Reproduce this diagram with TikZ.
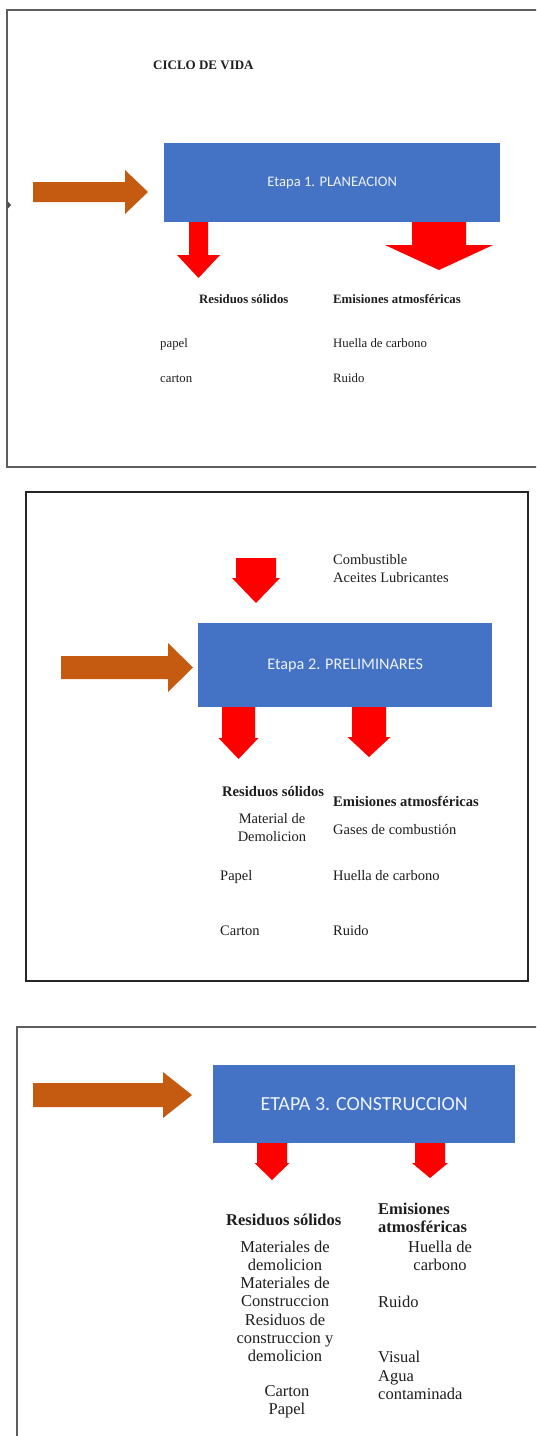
\documentclass[tikz,border=0pt]{standalone}
\usepackage{fontspec}
\setmainfont{Liberation Serif}
\newfontfamily\calib{Carlito}
\usetikzlibrary{calc}

\definecolor{stageblue}{HTML}{4472C4}
\definecolor{flowbrown}{HTML}{C55A11}
\definecolor{outred}{HTML}{FF0000}
\definecolor{framegray}{HTML}{5E5E5E}
\definecolor{inkgray}{HTML}{1E1E1E}
\definecolor{paletext}{HTML}{EEF2FA}

% downward block arrow: centre x, top y, shaft width, head width, head base y, tip y
\newcommand\downblock[6]{%
  \fill[outred] (#1-#3/2,#2) -- (#1+#3/2,#2) -- (#1+#3/2,#5) -- (#1+#4/2,#5)
    -- (#1,#6) -- (#1-#4/2,#5) -- (#1-#3/2,#5) -- cycle;}
% rightward block arrow: left x, centre y, shaft height, head height, head base x, tip x
\newcommand\rightblock[6]{%
  \fill[flowbrown] (#1,#2-#3/2) -- (#5,#2-#3/2) -- (#5,#2-#4/2) -- (#6,#2)
    -- (#5,#2+#4/2) -- (#5,#2+#3/2) -- (#1,#2+#3/2) -- cycle;}

\begin{document}
\begin{tikzpicture}[x=1pt,y=-1pt,
  panel/.style={draw=framegray, line width=1.4pt},
  stage/.style={fill=stageblue, draw=none, text=paletext, font=\calib,
    inner sep=0pt, anchor=north west},
  lbl/.style={text=inkgray, inner sep=0pt, anchor=west,
    text height=0.7em, text depth=0.2em},
  grp/.style={text=inkgray, inner sep=0pt, align=center},
  sizeA/.style={font=\fontsize{12.8}{15}\selectfont},
  sizeAb/.style={font=\fontsize{12.8}{15}\selectfont\bfseries},
  sizeB/.style={font=\fontsize{14.5}{18}\selectfont},
  sizeBb/.style={font=\fontsize{14.6}{18}\selectfont\bfseries},
  sizeC/.style={font=\fontsize{16.5}{18.2}\selectfont},
  sizeCb/.style={font=\fontsize{16.5}{18}\selectfont\bfseries}]

\useasboundingbox (0,0) rectangle (536,1436);
\fill[white] (0,0) rectangle (536,1436);
\clip (0,0) rectangle (536,1436);

% ---------- Etapa 1 ----------
\draw[panel] (7,10) rectangle (548,467);
\fill[framegray!80!black] (7.5,201) -- (11,205) -- (7.5,209) -- cycle;
\node[lbl, font=\fontsize{13}{15}\selectfont\bfseries] (title) at (153,67) {CICLO DE VIDA};
\node[stage, minimum width=336pt, minimum height=79pt,
  font=\calib\fontsize{14.6}{16}\selectfont] (s1) at (164,143) {Etapa 1. PLANEACION};
\rightblock{33}{192}{20}{44}{125}{148}
\downblock{198.5}{222}{19}{43}{255}{278}
\downblock{439}{222}{54}{108}{245}{270}
\node[lbl, sizeAb] (r1) at (199,301) {Residuos sólidos};
\node[lbl, sizeAb] (e1) at (333,301) {Emisiones atmosféricas};
\node[lbl, sizeA] (r1a) at (160,345) {papel};
\node[lbl, sizeA] (r1b) at (160,380) {carton};
\node[lbl, sizeA] (e1a) at (333,345) {Huella de carbono};
\node[lbl, sizeA] (e1b) at (333,380) {Ruido};

% ---------- Etapa 2 ----------
\draw[panel, draw=black!85] (26,492) rectangle (528,981);
\node[lbl, sizeB] (in2a) at (333,562) {Combustible};
\node[lbl, sizeB] (in2b) at (333,580) {Aceites Lubricantes};
\downblock{256}{558}{40}{48}{578}{603}
\node[stage, minimum width=294pt, minimum height=84pt,
  font=\calib\fontsize{16.2}{18}\selectfont] (s2) at (198,623) {Etapa 2. PRELIMINARES};
\rightblock{61}{667.5}{23}{49}{168}{193}
\downblock{238.5}{707}{33}{40}{738}{759}
\downblock{369}{707}{34}{43}{737}{757}
\node[lbl, sizeBb] (r2) at (222,794) {Residuos sólidos};
\node[lbl, sizeBb] (e2) at (333,804) {Emisiones atmosféricas};
\node[grp, sizeB] (r2a) at (272,828) {Material de\\Demolicion};
\node[lbl, sizeB] (e2a) at (333,832) {Gases de combustión};
\node[lbl, sizeB] (r2b) at (220,878) {Papel};
\node[lbl, sizeB] (e2b) at (333,878) {Huella de carbono};
\node[lbl, sizeB] (r2c) at (220,933) {Carton};
\node[lbl, sizeB] (e2c) at (333,933) {Ruido};

% ---------- Etapa 3 ----------
\draw[panel] (17,1027) rectangle (548,1450);
\node[stage, minimum width=302pt, minimum height=78pt,
  font=\calib\fontsize{20}{22}\selectfont] (s3) at (213,1065) {ETAPA 3. CONSTRUCCION};
\rightblock{33}{1095}{24}{46}{163}{192}
\downblock{272}{1143}{30}{35}{1163}{1180}
\downblock{430}{1143}{30}{36}{1163}{1178}
\node[lbl, sizeCb] (r3) at (226,1223) {Residuos sólidos};
\node[grp, sizeCb, align=left, anchor=west] (e3) at (378,1218) {Emisiones\\atmosféricas};
\node[grp, sizeC] (r3a) at (285,1256) {Materiales de\\demolicion};
\node[grp, sizeC] (r3b) at (285,1292) {Materiales de\\Construccion};
\node[grp, sizeC] (r3c) at (285,1338) {Residuos de\\construccion y\\demolicion};
\node[grp, sizeC] (r3d) at (287,1402) {Carton\\Papel};
\node[grp, sizeC] (e3a) at (440,1256) {Huella de\\carbono};
\node[lbl, sizeC] (e3b) at (378,1305) {Ruido};
\node[lbl, sizeC] (e3c) at (378,1360) {Visual};
\node[grp, sizeC, align=left, anchor=west] (e3d) at (378,1385) {Agua\\contaminada};
\end{tikzpicture}
\end{document}
